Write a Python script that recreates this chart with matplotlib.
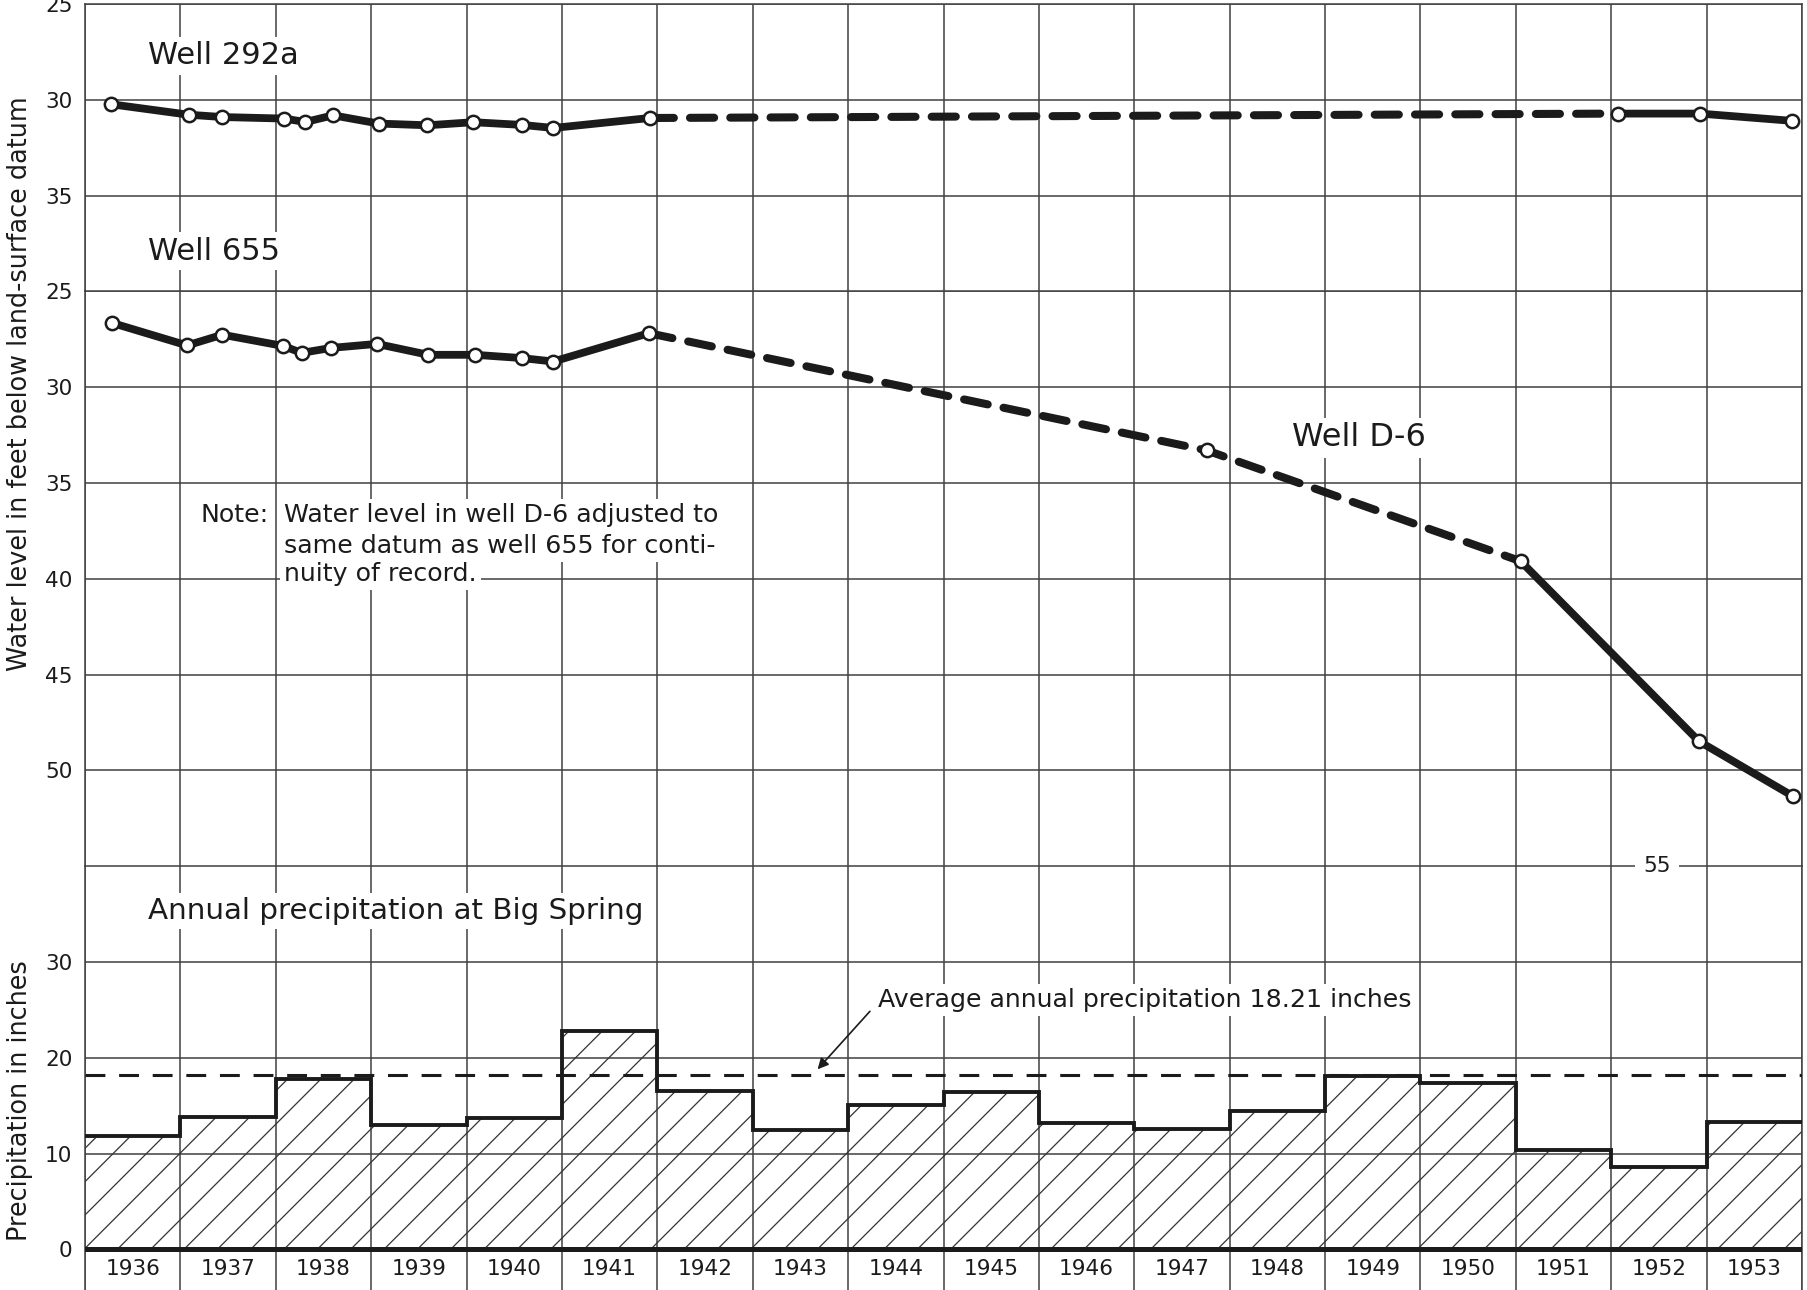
"""
Hydrographs of wells 292a, 655 and D-6 with annual precipitation at Big Spring
"""

import matplotlib
matplotlib.use('Agg')
import matplotlib.pyplot as plt

plt.rcParams['font.family'] = ['DejaVu Sans']
plt.rcParams['hatch.linewidth'] = 0.45
plt.rcParams['hatch.color'] = '#333333'

# ---- data ----
years = list(range(1936, 1954))
year_edges = list(range(1936, 1955))

# Well 292a, feet below land surface
w292_early_t = [1936.27, 1937.09, 1937.44, 1938.09, 1938.31, 1938.60,
                1939.08, 1939.59, 1940.07, 1940.58, 1940.91, 1941.92]
w292_early_v = [30.23, 30.78, 30.90, 30.98, 31.16, 30.81,
                31.24, 31.33, 31.17, 31.31, 31.47, 30.95]
w292_late_t = [1952.07, 1952.93, 1953.90]
w292_late_v = [30.72, 30.72, 31.10]

# Well 655 and well D-6 (same datum)
w655_t = [1936.28, 1937.07, 1937.44, 1938.08, 1938.27, 1938.58,
          1939.06, 1939.60, 1940.09, 1940.58, 1940.91, 1941.91]
w655_v = [26.64, 27.82, 27.26, 27.85, 28.21, 27.95,
          27.74, 28.31, 28.31, 28.48, 28.66, 27.18]
d6_t = [1947.76, 1951.05, 1952.92, 1953.91]
d6_v = [33.30, 39.08, 48.48, 51.36]

# annual precipitation, inches
precip = [11.86, 13.86, 17.83, 13.00, 13.69, 22.83, 16.52, 12.48, 15.10,
          16.47, 13.15, 12.53, 14.42, 18.12, 17.36, 10.41, 8.63, 13.32]
avg_precip = 18.21

top_ticks = [25, 30, 35]
mid_ticks = [25, 30, 35, 40, 45, 50]
precip_ticks = [0, 10, 20, 30]

INK = '#1b1b1b'
GRID = '#404040'
W, H = 1808, 1290


def box(top_px, bottom_px):
    """axes rect from pixel rows (origin at top)"""
    return [85 / W, 1 - bottom_px / H, (1802 - 85) / W, (bottom_px - top_px) / H]


fig = plt.figure(figsize=(W / 200, H / 200), dpi=200, facecolor='white')
ax_top = fig.add_axes(box(4, 291.4))
ax_mid = fig.add_axes(box(291.4, 866.2))
ax_pr = fig.add_axes(box(866.2, 1290))

for ax in (ax_top, ax_mid, ax_pr):
    ax.set_xlim(1936, 1954)
    ax.set_xticks(year_edges)
    ax.tick_params(axis='both', length=0, labelsize=7.8, pad=4.5, colors=INK)
    ax.tick_params(axis='x', labelbottom=False)
    ax.grid(True, color=GRID, linewidth=0.55)
    ax.set_axisbelow(True)
    ax.spines['bottom'].set_visible(False)
    for s in ('top', 'left', 'right'):
        ax.spines[s].set_color(GRID)
        ax.spines[s].set_linewidth(0.55)

ax_top.set_ylim(40, 25)
ax_top.set_yticks(top_ticks)
ax_mid.set_ylim(55, 25)
ax_mid.set_yticks(mid_ticks)
ax_pr.set_ylim(-4.24, 40)
ax_pr.set_yticks(precip_ticks)

text_box = dict(facecolor='white', edgecolor='none', pad=1.5)
line_kw = dict(color=INK, linewidth=2.8, solid_capstyle='round', zorder=4)
dash_kw = dict(color=INK, linewidth=2.9, linestyle=(0, (3.0, 2.0)),
               dash_capstyle='round', zorder=4)
mark_kw = dict(marker='o', markersize=4.8, markerfacecolor='white',
               markeredgecolor=INK, markeredgewidth=0.9)

# well 292a
ax_top.plot([w292_early_t[-1], w292_late_t[0]], [w292_early_v[-1], w292_late_v[0]], **dash_kw)
ax_top.plot(w292_early_t, w292_early_v, **line_kw, **mark_kw)
ax_top.plot(w292_late_t, w292_late_v, **line_kw, **mark_kw)
ax_top.text(1936.66, 27.7, 'Well 292a', fontsize=11, va='center', color=INK, bbox=text_box)
ax_top.text(1936.66, 37.9, 'Well 655', fontsize=11, va='center', color=INK, bbox=text_box)

# well 655 / D-6
ax_mid.plot([w655_t[-1], d6_t[0], d6_t[1]], [w655_v[-1], d6_v[0], d6_v[1]], **dash_kw)
ax_mid.plot(w655_t, w655_v, **line_kw, **mark_kw)
ax_mid.plot(d6_t[1:], d6_v[1:], **line_kw, **mark_kw)
ax_mid.plot(d6_t[:1], d6_v[:1], linestyle='none', zorder=5, **mark_kw)
ax_mid.text(1948.65, 32.65, 'Well D-6', fontsize=11.5, va='center', color=INK, bbox=text_box)

note_kw = dict(fontsize=9.1, va='center', color=INK, bbox=text_box)
ax_mid.text(1937.21, 36.69, 'Note:', **note_kw)
ax_mid.text(1938.09, 36.69, 'Water level in well D-6 adjusted to', **note_kw)
ax_mid.text(1938.09, 38.31, 'same datum as well 655 for conti-', **note_kw)
ax_mid.text(1938.09, 39.76, 'nuity of record.', **note_kw)

# precipitation
ax_pr.bar(years, precip, width=1, align='edge', facecolor='none',
          edgecolor='#333333', linewidth=0, hatch='//', zorder=1)
ax_pr.stairs(precip, year_edges, baseline=None, color=INK, linewidth=1.4, zorder=3)
ax_pr.axhline(0, color=INK, linewidth=1.8, zorder=3)
ax_pr.axhline(avg_precip, color=INK, linewidth=1.1, linestyle=(0, (6.5, 4.5)), zorder=3)
ax_pr.text(1952.48, 40, '55', fontsize=7.8, ha='center', va='center', color=INK,
           bbox=dict(facecolor='white', edgecolor='none', pad=3), zorder=5)
ax_pr.text(1936.66, 35.35, 'Annual precipitation at Big Spring', fontsize=10.6,
           va='center', color=INK, bbox=text_box)
ax_pr.annotate('Average annual precipitation 18.21 inches',
               xy=(1943.68, 18.8), xytext=(1944.31, 26.0),
               fontsize=9.1, va='center', ha='left', color=INK, bbox=text_box,
               arrowprops=dict(arrowstyle='-|>', color=INK, lw=0.6,
                               mutation_scale=8, relpos=(0, 0.4),
                               shrinkA=2, shrinkB=0))
for yr in years:
    ax_pr.text(yr + 0.5, -2.1, str(yr), fontsize=7.8, ha='center', va='center', color=INK)

fig.text(20 / W, 1 - 384 / H, 'Water level in feet below land-surface datum',
         rotation=90, ha='center', va='center', fontsize=9.2, color=INK)
fig.text(20 / W, 1 - 1101 / H, 'Precipitation in inches',
         rotation=90, ha='center', va='center', fontsize=9.2, color=INK)

fig.savefig('out.png', dpi=200, facecolor='white')
